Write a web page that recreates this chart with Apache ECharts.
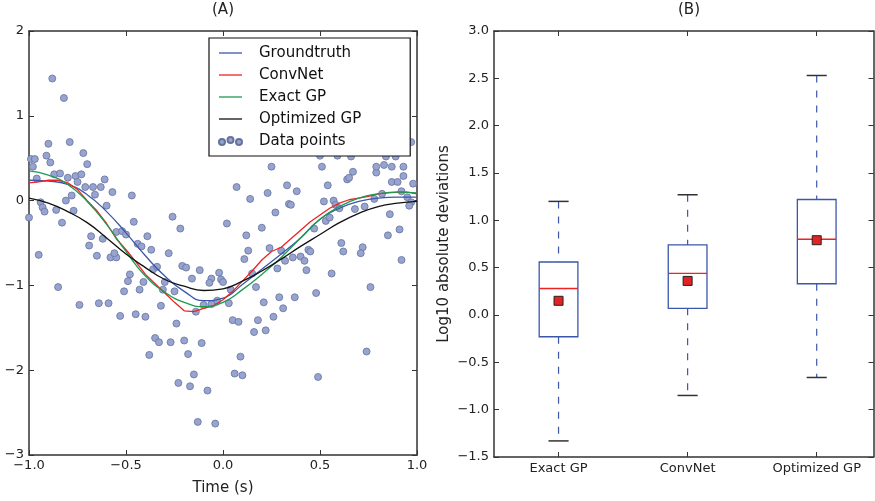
<!DOCTYPE html>
<html>
<head>
<meta charset="utf-8">
<script src="https://cdn.jsdelivr.net/npm/echarts@6/dist/echarts.min.js"></script>
<style>
  html, body { margin: 0; padding: 0; background: #fff; }
  #chart { width: 875px; height: 501px; }
</style>
</head>
<body>
<div id="chart"></div>
<script>
// (A) curves, sampled every 0.1 s
const timeGrid = [-1.0, -0.9, -0.8, -0.7, -0.6, -0.5, -0.4, -0.3, -0.2, -0.1, 0.0,
  0.1, 0.2, 0.3, 0.4, 0.5, 0.6, 0.7, 0.8, 0.9, 1.0];
const groundtruth = [0.24, 0.23, 0.19, 0.07, -0.13, -0.38, -0.65, -0.89, -1.07, -1.18, -1.15,
  -0.99, -0.81, -0.63, -0.44, -0.22, -0.09, -0.01, 0.03, 0.04, 0.04];
const exactGP = [0.35, 0.30, 0.19, -0.01, -0.28, -0.60, -0.89, -1.08, -1.20, -1.25, -1.20,
  -1.05, -0.87, -0.67, -0.44, -0.22, -0.07, 0.03, 0.08, 0.10, 0.09];
const optimizedGP = [0.03, -0.03, -0.13, -0.26, -0.44, -0.63, -0.79, -0.93, -1.01, -1.06, -1.04,
  -0.95, -0.83, -0.69, -0.54, -0.40, -0.26, -0.15, -0.07, -0.03, -0.01];

// ConvNet is noisier, sampled every 0.05 s
const convnetTime = [-1.0, -0.95, -0.9, -0.85, -0.8, -0.75, -0.7, -0.65, -0.6, -0.55, -0.5,
  -0.45, -0.4, -0.35, -0.3, -0.25, -0.2, -0.15, -0.1, -0.05, 0.0,
  0.05, 0.1, 0.15, 0.2, 0.25, 0.3, 0.35, 0.4, 0.45, 0.5,
  0.55, 0.6, 0.65, 0.7, 0.75, 0.8, 0.85, 0.9, 0.95, 1.0];
const convnet = [0.21, 0.22, 0.24, 0.24, 0.21, 0.13, 0.00, -0.12, -0.27, -0.45, -0.58,
  -0.72, -0.87, -0.98, -1.09, -1.20, -1.30, -1.31, -1.27, -1.24, -1.17,
  -1.07, -0.95, -0.83, -0.70, -0.60, -0.55, -0.45, -0.35, -0.25, -0.17,
  -0.09, -0.03, 0.01, 0.03, 0.05, 0.08, 0.09, 0.10, 0.10, 0.08];

// noisy observations [time, value]
const dataPoints = [
  [-0.88, 1.44], [-0.82, 1.21], [-0.90, 0.67], [-0.79, 0.69], [-0.99, 0.49], [-0.97, 0.49],
  [-0.91, 0.53], [-0.89, 0.45], [-0.72, 0.56], [-0.70, 0.43], [-0.98, 0.40], [-0.87, 0.31],
  [-0.84, 0.32], [-0.80, 0.27], [-0.76, 0.29], [-0.73, 0.31], [-0.61, 0.25], [-0.96, 0.26],
  [-0.75, 0.22], [-0.71, 0.16], [-0.67, 0.16], [-0.63, 0.16], [-0.66, 0.07], [-0.57, 0.10],
  [-0.47, 0.06], [-0.81, 0.00], [-0.78, 0.06], [-0.77, -0.12], [-0.86, -0.11], [-0.94, -0.02],
  [-0.93, -0.08], [-0.92, -0.13], [-1.00, -0.20], [-0.83, -0.26], [-0.60, -0.06], [-0.68, -0.42],
  [-0.69, -0.53], [-0.62, -0.45], [-0.55, -0.37], [-0.52, -0.36], [-0.50, -0.40], [-0.46, -0.25],
  [-0.44, -0.51], [-0.42, -0.54], [-0.39, -0.42], [-0.37, -0.58], [-0.26, -0.19], [-0.22, -0.33],
  [-0.65, -0.65], [-0.95, -0.64], [-0.58, -0.67], [-0.55, -0.67], [-0.56, -0.62], [-0.28, -0.62],
  [-0.36, -0.81], [-0.34, -0.78], [-0.21, -0.77], [-0.19, -0.79], [-0.12, -0.82], [-0.02, -0.85],
  [-0.48, -0.87], [-0.49, -0.95], [-0.41, -0.96], [-0.16, -0.92], [-0.06, -0.92], [-0.07, -0.97],
  [-0.30, -0.96], [-0.31, -1.05], [-0.25, -1.07], [-0.43, -1.05], [-0.51, -1.07], [-0.85, -1.02],
  [-0.03, -1.18], [-0.06, -1.22], [-0.10, -1.23], [-0.14, -1.31], [-0.32, -1.24], [-0.74, -1.23],
  [-0.64, -1.21], [-0.59, -1.21], [-0.53, -1.36], [-0.45, -1.34], [-0.40, -1.37], [-0.24, -1.45],
  [-0.35, -1.62], [-0.33, -1.67], [-0.27, -1.67], [-0.20, -1.65], [-0.11, -1.68], [-0.38, -1.82],
  [-0.18, -1.81], [-0.15, -2.05], [-0.23, -2.15], [-0.17, -2.19], [-0.08, -2.24], [-0.13, -2.61],
  [-0.04, -2.63], [0.03, -1.21], [0.21, -1.20], [0.31, -1.27], [0.05, -1.41], [0.08, -1.43],
  [0.18, -1.41], [0.26, -1.37], [0.16, -1.55], [0.22, -1.53], [0.09, -1.84], [0.74, -1.78],
  [0.06, -2.04], [0.10, -2.06], [0.49, -2.08], [0.07, 0.16], [0.14, 0.02], [0.23, 0.09],
  [0.33, 0.18], [0.38, 0.11], [0.54, 0.18], [0.64, 0.25], [0.65, 0.27], [0.67, 0.34],
  [0.79, 0.33], [0.93, 0.29], [0.98, 0.20], [0.87, 0.22], [0.90, 0.22], [0.34, -0.04],
  [0.35, -0.05], [0.27, -0.14], [0.52, -0.01], [0.57, 0.00], [0.58, -0.05], [0.60, -0.09],
  [0.68, -0.10], [0.73, -0.07], [0.78, 0.02], [0.82, 0.08], [0.92, 0.11], [0.95, 0.04],
  [0.97, -0.02], [0.96, -0.06], [0.86, -0.16], [0.91, -0.34], [0.85, -0.41], [0.53, -0.24],
  [0.55, -0.20], [0.02, -0.27], [0.20, -0.32], [0.12, -0.41], [0.13, -0.59], [0.24, -0.56],
  [0.11, -0.69], [0.30, -0.59], [0.28, -0.80], [0.32, -0.71], [0.36, -0.67], [0.40, -0.66],
  [0.42, -0.71], [0.44, -0.58], [0.45, -0.60], [0.43, -0.82], [0.47, -0.33], [0.61, -0.50],
  [0.62, -0.60], [0.72, -0.55], [0.71, -0.62], [0.92, -0.70], [0.56, -0.86], [0.15, -0.86],
  [-0.01, -0.93], [0.00, -0.96], [0.17, -1.02], [0.04, -1.05], [0.76, -1.02], [0.48, -1.09],
  [0.29, -1.14], [0.37, -1.14], [0.25, 0.40], [0.51, 0.40], [0.50, 0.53], [0.59, 0.53],
  [0.66, 0.52], [0.84, 0.52], [0.89, 0.52], [0.79, 0.40], [0.83, 0.42], [0.87, 0.40],
  [0.93, 0.40], [0.97, 0.69]
];

// (B) box plot statistics
const boxNames = ['Exact GP', 'ConvNet', 'Optimized GP'];
const boxPositions = [1, 2, 3];
const whiskerLow = [-1.33, -0.85, -0.66];
const q1 = [-0.23, 0.07, 0.33];
const medians = [0.28, 0.44, 0.80];
const q3 = [0.56, 0.74, 1.22];
const whiskerHigh = [1.20, 1.27, 2.53];
const means = [0.15, 0.36, 0.79];

const FONT = 'DejaVu Sans';
const BLUE = '#3c57aa';
const RED = '#ee2222';
const GREEN = '#1e9a52';
const SPINE = '#333';

const minus = s => s.replace('-', '\u2212');
const fmt1 = v => minus(v.toFixed(1));
const fmt0 = v => minus(String(v));

const zip = (xs, ys) => xs.map((x, i) => [x, ys[i]]);
const boxData = boxPositions.map((p, i) => [p, whiskerLow[i], q1[i], medians[i], q3[i], whiskerHigh[i]]);

function renderBox(params, api) {
  const p = api.value(0);
  const lo = api.value(1), b1 = api.value(2), med = api.value(3), b3 = api.value(4), hi = api.value(5);
  const half = 0.15, cap = 0.078;
  const cx = api.coord([p, 0])[0];
  const boxL = api.coord([p - half, b3]);
  const boxR = api.coord([p + half, b1]);
  const yHi = api.coord([p, hi])[1], yLo = api.coord([p, lo])[1];
  const yMed = api.coord([p, med])[1];
  const capL = api.coord([p - cap, 0])[0], capR = api.coord([p + cap, 0])[0];
  const dash = { stroke: BLUE, lineWidth: 1.2, lineDash: [7, 8] };
  const capStyle = { stroke: SPINE, lineWidth: 1.5 };
  return {
    type: 'group',
    children: [
      { type: 'line', shape: { x1: cx, y1: yHi, x2: cx, y2: boxL[1] }, style: dash },
      { type: 'line', shape: { x1: cx, y1: boxR[1], x2: cx, y2: yLo }, style: dash },
      { type: 'line', shape: { x1: capL, y1: yHi, x2: capR, y2: yHi }, style: capStyle },
      { type: 'line', shape: { x1: capL, y1: yLo, x2: capR, y2: yLo }, style: capStyle },
      { type: 'rect', shape: { x: boxL[0], y: boxL[1], width: boxR[0] - boxL[0], height: boxR[1] - boxL[1] },
        style: { fill: 'none', stroke: BLUE, lineWidth: 1.3 } },
      { type: 'line', shape: { x1: boxL[0], y1: yMed, x2: boxR[0], y2: yMed }, style: { stroke: RED, lineWidth: 1.3 } }
    ]
  };
}

const tick = { show: true, inside: true, length: 5, lineStyle: { color: SPINE, width: 1 } };
const line = { show: true, onZero: false, lineStyle: { color: SPINE, width: 1.5 } };
const label13 = { fontFamily: FONT, fontSize: 13, color: '#222' };
const lineIcon = 'path://M0,0h23v1.3h-23z';
const dotsIcon = 'path://M0,5a3,3 0 1,0 6,0a3,3 0 1,0 -6,0zM8.5,3a3,3 0 1,0 6,0a3,3 0 1,0 -6,0zM17,5a3,3 0 1,0 6,0a3,3 0 1,0 -6,0z';

const chart = echarts.init(document.getElementById('chart'));
chart.setOption({
  animation: false,
  backgroundColor: '#fff',
  graphic: [
    { type: 'text', x: 223, y: 3, style: { text: '(A)', textAlign: 'center', font: '15px "DejaVu Sans"', fill: '#222' } },
    { type: 'text', x: 689, y: 3, style: { text: '(B)', textAlign: 'center', font: '15px "DejaVu Sans"', fill: '#222' } }
  ],
  legend: {
    orient: 'vertical',
    left: 209, top: 38,
    padding: [7, 49, 7, 9],
    itemWidth: 23, itemHeight: 8, itemGap: 6,
    backgroundColor: '#fff',
    borderColor: '#111', borderWidth: 1.2,
    textStyle: { fontFamily: FONT, fontSize: 15, color: '#111', lineHeight: 16, padding: [0, 0, 0, 12] },
    data: [
      { name: 'Groundtruth', icon: lineIcon },
      { name: 'ConvNet', icon: lineIcon },
      { name: 'Exact GP', icon: lineIcon },
      { name: 'Optimized GP', icon: lineIcon },
      { name: 'Data points', icon: dotsIcon }
    ]
  },
  grid: [
    { left: 29, top: 31, width: 388, height: 425 },
    { left: 494, top: 31, width: 379.5, height: 426 }
  ],
  xAxis: [
    { type: 'value', gridIndex: 0, min: -1, max: 1, interval: 0.5, position: 'bottom',
      axisLine: line, axisTick: tick, splitLine: { show: false },
      axisLabel: Object.assign({ margin: 4, formatter: fmt1 }, label13),
      name: 'Time (s)', nameLocation: 'middle', nameGap: 26,
      nameTextStyle: { fontFamily: FONT, fontSize: 15, color: '#222' } },
    { type: 'value', gridIndex: 0, min: -1, max: 1, interval: 0.5, position: 'top',
      axisLine: line, axisTick: tick, splitLine: { show: false }, axisLabel: { show: false } },
    { type: 'value', gridIndex: 1, min: 0.5, max: 3.44, position: 'bottom',
      axisLine: line, splitLine: { show: false },
      axisTick: Object.assign({ customValues: boxPositions }, tick),
      axisLabel: Object.assign({ margin: 5, customValues: boxPositions, formatter: v => boxNames[Math.round(v) - 1] }, label13) },
    { type: 'value', gridIndex: 1, min: 0.5, max: 3.44, position: 'top',
      axisLine: line, splitLine: { show: false },
      axisTick: Object.assign({ customValues: boxPositions }, tick),
      axisLabel: { show: false } }
  ],
  yAxis: [
    { type: 'value', gridIndex: 0, min: -3, max: 2, interval: 1, position: 'left',
      axisLine: line, axisTick: tick, splitLine: { show: false },
      axisLabel: Object.assign({ margin: 5, formatter: fmt0 }, label13) },
    { type: 'value', gridIndex: 0, min: -3, max: 2, interval: 1, position: 'right',
      axisLine: line, axisTick: tick, splitLine: { show: false }, axisLabel: { show: false } },
    { type: 'value', gridIndex: 1, min: -1.5, max: 3.0, interval: 0.5, position: 'left',
      axisLine: line, axisTick: tick, splitLine: { show: false },
      axisLabel: Object.assign({ margin: 5, formatter: fmt1 }, label13),
      name: 'Log10 absolute deviations', nameLocation: 'middle', nameRotate: 90, nameGap: 42,
      nameTextStyle: { fontFamily: FONT, fontSize: 15, color: '#222' } },
    { type: 'value', gridIndex: 1, min: -1.5, max: 3.0, interval: 0.5, position: 'right',
      axisLine: line, axisTick: tick, splitLine: { show: false }, axisLabel: { show: false } }
  ],
  series: [
    { name: 'Data points', type: 'scatter', xAxisIndex: 0, yAxisIndex: 0, z: 2,
      symbolSize: 7, data: dataPoints,
      itemStyle: { color: '#97a4d0', borderColor: '#66729e', borderWidth: 0.8, opacity: 1 } },
    { name: 'Groundtruth', type: 'line', xAxisIndex: 0, yAxisIndex: 0, z: 3,
      symbol: 'none', smooth: true, data: zip(timeGrid, groundtruth),
      lineStyle: { color: BLUE, width: 1.3 }, itemStyle: { color: BLUE } },
    { name: 'ConvNet', type: 'line', xAxisIndex: 0, yAxisIndex: 0, z: 3,
      symbol: 'none', data: zip(convnetTime, convnet),
      lineStyle: { color: RED, width: 1.3 }, itemStyle: { color: RED } },
    { name: 'Exact GP', type: 'line', xAxisIndex: 0, yAxisIndex: 0, z: 3,
      symbol: 'none', smooth: true, data: zip(timeGrid, exactGP),
      lineStyle: { color: GREEN, width: 1.3 }, itemStyle: { color: GREEN } },
    { name: 'Optimized GP', type: 'line', xAxisIndex: 0, yAxisIndex: 0, z: 3,
      symbol: 'none', smooth: true, data: zip(timeGrid, optimizedGP),
      lineStyle: { color: '#111', width: 1.3 }, itemStyle: { color: '#111' } },
    { type: 'custom', xAxisIndex: 2, yAxisIndex: 2, renderItem: renderBox,
      encode: { x: 0, y: [1, 2, 3, 4, 5] }, data: boxData, z: 3 },
    { type: 'scatter', xAxisIndex: 2, yAxisIndex: 2, symbol: 'rect', symbolSize: 9, z: 4,
      data: zip(boxPositions, means),
      itemStyle: { color: '#e42222', borderColor: '#222', borderWidth: 1, opacity: 1 } }
  ]
});
</script>
</body>
</html>
